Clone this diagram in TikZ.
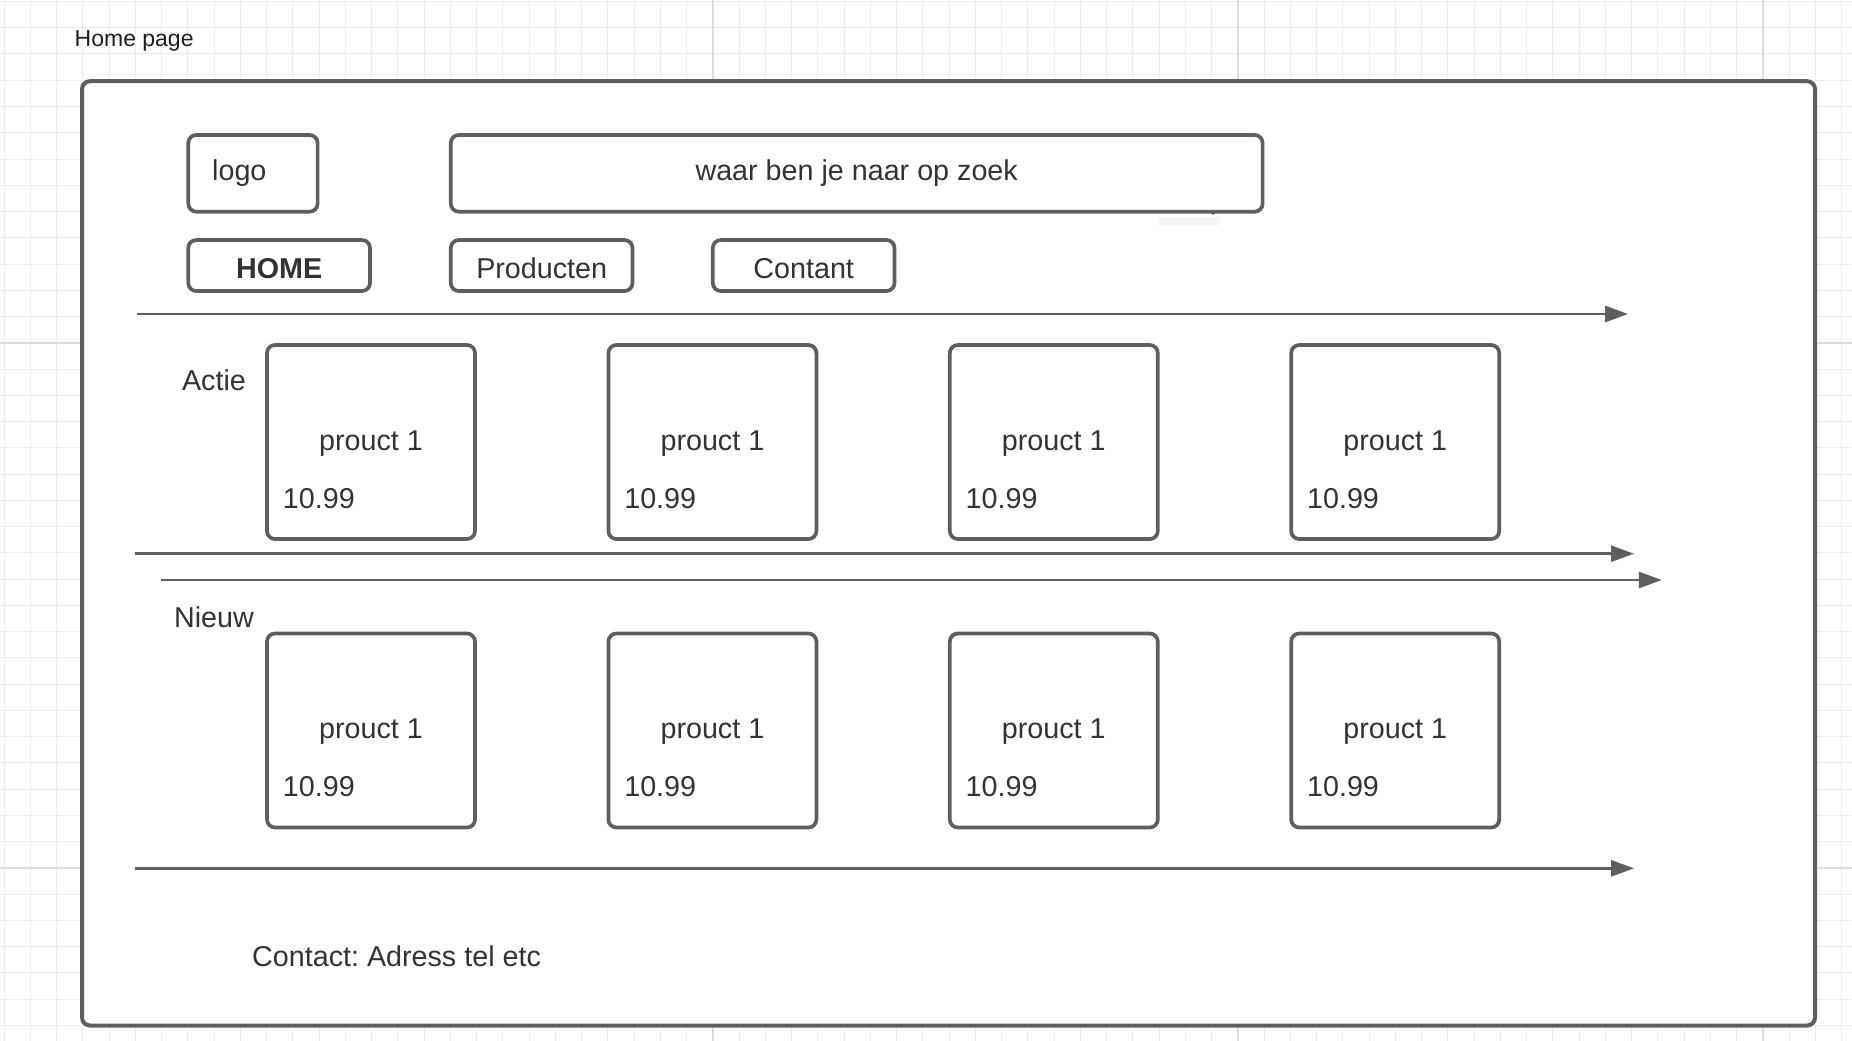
\documentclass[tikz,border=0pt]{standalone}
\usepackage{fontspec}
\setmainfont{Liberation Sans}
\usetikzlibrary{arrows.meta}
\definecolor{strk}{HTML}{5E5E5E}
\definecolor{txt}{HTML}{333333}
\definecolor{gridc}{HTML}{ECECEC}
\definecolor{pagec}{HTML}{DCDCDC}
\definecolor{faint}{HTML}{F5F5F5}
\frenchspacing
\begin{document}
\begin{tikzpicture}[x=1pt,y=-1pt,
  box/.style={draw=strk, line width=3.7pt, rounded corners=8pt, fill=white, anchor=north west, inner sep=0pt, outer sep=0pt},
  lbl/.style={text=txt, font=\fontsize{28.7}{34}\selectfont, inner sep=0pt},
  conn/.style={draw=strk, line width=2.7pt, -{Triangle[length=23pt,width=16pt]}},
  prodbox/.style={box, minimum width=208pt, minimum height=194pt}]
\useasboundingbox (0,0) rectangle (1852,1041);
\fill[white] (0,0) rectangle (1852,1041);
% background grid
\foreach \i in {0,...,70} \draw[gridc, line width=1pt] ({4+26.25*\i},0) -- ({4+26.25*\i},1041);
\foreach \j in {0,...,39} \draw[gridc, line width=1pt] (0,{1.5+26.25*\j}) -- (1852,{1.5+26.25*\j});
\foreach \px in {712.75,1237.75,1762.75} \draw[pagec, line width=2pt] (\px,0) -- (\px,1041);
\foreach \py in {342.75,867.75} \draw[pagec, line width=2pt] (0,\py) -- (1852,\py);

% title
\node[anchor=base west, inner sep=0pt, text=black!88, font=\fontsize{23}{28}\selectfont] (title) at (74.5,47) {Home page};

% frame
\node[box, line width=4pt, minimum width=1733pt, minimum height=944.3pt] (frame) at (82,81.2) {};

% header boxes
\node[box, minimum width=129.3pt, minimum height=76.7pt] (logo) at (188.3,135) {};
\node[lbl, anchor=base west] (logot) at (212,180) {logo};
\fill[faint] (1158,216.5) rectangle (1220,225);
\node[box, minimum width=811.8pt, minimum height=76.7pt] (search) at (450.8,135) {};
\node[lbl, anchor=base] (searcht) at (856.7,180) {waar ben je naar op zoek};
\fill[strk] (1213,213.2) circle (1.8pt);

\node[box, minimum width=181.7pt, minimum height=51pt] (home) at (188.3,240) {};
\node[lbl, anchor=base, font=\fontsize{28.7}{34}\selectfont\bfseries] (homet) at (279.2,278.3) {HOME};
\node[box, minimum width=181.7pt, minimum height=51pt] (prod) at (450.8,240) {};
\node[lbl, anchor=base] (prodt) at (541.7,278.3) {Producten};
\node[box, minimum width=181.7pt, minimum height=51pt] (cont) at (712.8,240) {};
\node[lbl, anchor=base] (contt) at (803.7,278.3) {Contant};

% separators
\coordinate (s1a) at (137,314);   \coordinate (s1b) at (1628,314);
\coordinate (s2a) at (134.6,553.7); \coordinate (s2b) at (1634,553.7);
\coordinate (s3a) at (160.6,580); \coordinate (s3b) at (1661.8,580);
\coordinate (s4a) at (134.6,868.3); \coordinate (s4b) at (1634,868.3);
\draw[conn] (s1a) -- (s1b);
\draw[conn] (s2a) -- (s2b);
\draw[conn] (s3a) -- (s3b);
\draw[conn] (s4a) -- (s4b);

% section labels
\node[lbl, anchor=base] (actie) at (214,390.3) {Actie};
\node[lbl, anchor=base] (nieuw) at (214,627) {Nieuw};

% product cards
\foreach \k in {0,1,2,3} {
  \foreach \r/\ry in {a/345, b/633.5} {
    \node[prodbox] (p\r\k) at ({267+341.4*\k},\ry) {};
    \node[lbl, anchor=base] (n\r\k) at ({371+341.4*\k},{\ry+105}) {prouct 1};
    \node[lbl, anchor=base west] (c\r\k) at ({282.7+341.4*\k},{\ry+163}) {10.99};
  }
}

% footer
\node[lbl, anchor=base west] (contact) at (252,966.7) {Contact: Adress tel etc};
\end{tikzpicture}
\end{document}
